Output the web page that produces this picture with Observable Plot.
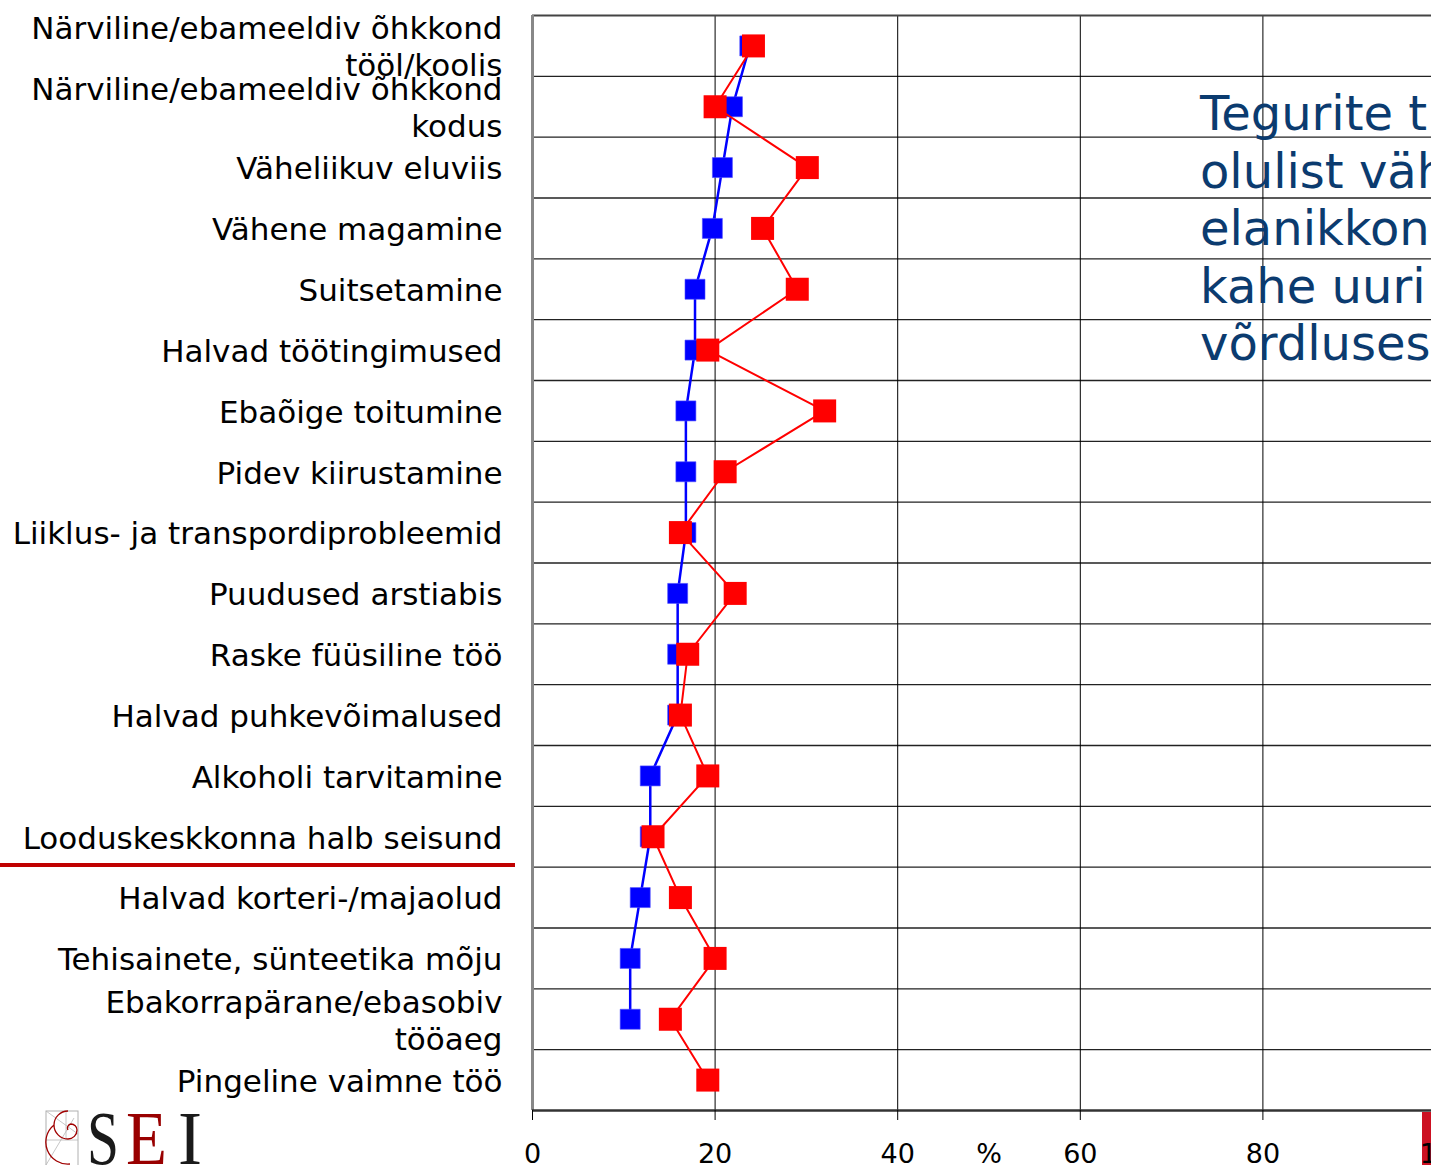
<!DOCTYPE html>
<html>
<head>
<meta charset="utf-8">
<script src="https://cdn.jsdelivr.net/npm/d3@7"></script>
<script src="https://cdn.jsdelivr.net/npm/@observablehq/plot@0.6"></script>
<style>
  html, body { margin: 0; padding: 0; background: #fff; }
  body { width: 1431px; height: 1165px; overflow: hidden; position: relative; font-family: "DejaVu Sans", sans-serif; }
  #chart { position: absolute; left: 0; top: 0; }
  #title { position: absolute; left: 1200px; top: 85px; color: #0b3b6f; font-size: 48px; line-height: 57.5px; white-space: pre; font-family: "DejaVu Sans", sans-serif; }
  #underline { position: absolute; left: 0; top: 863px; width: 515px; height: 4px; background: #c00000; }
  #strip { position: absolute; left: 1422px; top: 1112px; width: 9px; height: 53px; background: #cc1122; }
  #logo { position: absolute; left: 40px; top: 1100px; }
</style>
</head>
<body>
<div id="strip"></div>
<div id="chart"></div>
<div id="title"></div>
<div id="underline"></div>
<svg id="logo" width="190" height="65" viewBox="0 0 190 65">
  <rect x="6" y="11" width="32" height="60" fill="none" stroke="#b0b0b0" stroke-width="1"/>
  <line x1="6" y1="11" x2="38" y2="34" stroke="#b8b8b8" stroke-width="0.8"/>
  <line x1="6" y1="65" x2="34" y2="18" stroke="#b8b8b8" stroke-width="0.8"/>
  <line x1="26" y1="11" x2="26" y2="40" stroke="#b8b8b8" stroke-width="0.8"/>
  <line x1="6" y1="40" x2="38" y2="40" stroke="#b8b8b8" stroke-width="0.8"/>
  <path d="M 28 30 A 4 4 0 0 1 31 24 A 6 6 0 0 1 37 30 A 9 9 0 0 1 28 39 A 14 14 0 0 1 14 25 A 14 14 0 0 1 28 11 M 14 25 A 22 22 0 0 0 30 64" fill="none" stroke="#a00000" stroke-width="1.3"/>
  <text x="47" y="64" font-family="Liberation Serif, serif" font-size="76" fill="#1a1a1a" textLength="32" lengthAdjust="spacingAndGlyphs">S</text>
  <text x="86" y="64" font-family="Liberation Serif, serif" font-size="76" fill="#990000" textLength="41" lengthAdjust="spacingAndGlyphs">E</text>
  <text x="138" y="64" font-family="Liberation Serif, serif" font-size="76" fill="#1a1a1a" textLength="24" lengthAdjust="spacingAndGlyphs">I</text>
</svg>
<script>
// ---- data ----
const categories = [
  "Närviline/ebameeldiv õhkkond\ntööl/koolis",
  "Närviline/ebameeldiv õhkkond\nkodus",
  "Väheliikuv eluviis",
  "Vähene magamine",
  "Suitsetamine",
  "Halvad töötingimused",
  "Ebaõige toitumine",
  "Pidev kiirustamine",
  "Liiklus- ja transpordiprobleemid",
  "Puudused arstiabis",
  "Raske füüsiline töö",
  "Halvad puhkevõimalused",
  "Alkoholi tarvitamine",
  "Looduskeskkonna halb seisund",
  "Halvad korteri-/majaolud",
  "Tehisainete, sünteetika mõju",
  "Ebakorrapärane/ebasobiv\ntööaeg",
  "Pingeline vaimne töö"
];
const seriesBlue = [23.8, 21.9, 20.8, 19.7, 17.8, 17.8, 16.8, 16.8, 16.8, 15.9, 15.9, 15.9, 12.9, 12.9, 11.8, 10.7, 10.7, null];
const seriesRed  = [24.2, 20.0, 30.1, 25.2, 29.0, 19.2, 32.0, 21.1, 16.2, 22.2, 17.0, 16.2, 19.2, 13.2, 16.2, 20.0, 15.1, 19.2];
const xTicks = [0, 20, 40, 60, 80, 100];
const xLabel = "%";
const titleLines = ["Tegurite t", "olulist väh", "elanikkon", "kahe uuri", "võrdluses"];

// ---- build ----
document.getElementById("title").textContent = titleLines.join("\n");

const rows = categories.map((c, i) => ({label: c, pos: i + 0.5, blue: seriesBlue[i], red: seriesRed[i]}));
const blueRows = rows.filter(d => d.blue != null);

const chart = Plot.plot({
  width: 1431,
  height: 1165,
  marginTop: 15,
  marginBottom: 55,
  marginLeft: 532,
  marginRight: -14,
  style: {fontFamily: "DejaVu Sans", background: "transparent", overflow: "hidden", color: "black"},
  x: {domain: [xTicks[0], xTicks[xTicks.length - 1]]},
  y: {domain: [0, categories.length], reverse: true, axis: null},
  marks: [
    Plot.ruleY(d3.range(1, categories.length), {stroke: "#222", strokeWidth: 1.3}),
    Plot.ruleX(xTicks.slice(1), {stroke: "black", strokeWidth: 1}),
    Plot.ruleY([0], {stroke: "#444", strokeWidth: 2}),
    Plot.ruleX([0], {stroke: "#888", strokeWidth: 3}),
    Plot.ruleY([categories.length], {stroke: "#333", strokeWidth: 2.5}),
    Plot.axisX({
      ticks: xTicks, tickSize: 10, tickPadding: 23, fontSize: 27, tickFormat: d => String(d),
      label: xLabel, labelAnchor: "center", labelArrow: "none"
    }),
    Plot.line(blueRows, {x: "blue", y: "pos", stroke: "#0000ff", strokeWidth: 2.5}),
    Plot.dot(blueRows, {x: "blue", y: "pos", symbol: "square", r: 20 / Math.sqrt(Math.PI), fill: "#0000ff", stroke: "#4d4dff", strokeWidth: 0.6}),
    Plot.line(rows, {x: "red", y: "pos", stroke: "#ff0000", strokeWidth: 2}),
    Plot.dot(rows, {x: "red", y: "pos", symbol: "square", r: 23 / Math.sqrt(Math.PI), fill: "#ff0000"}),
    Plot.text(rows, {
      text: "label", y: "pos", frameAnchor: "left", dx: -30, textAnchor: "end",
      fontSize: 31, lineHeight: 1.2, fill: "black"
    })
  ]
});
document.getElementById("chart").appendChild(chart);
</script>
</body>
</html>
